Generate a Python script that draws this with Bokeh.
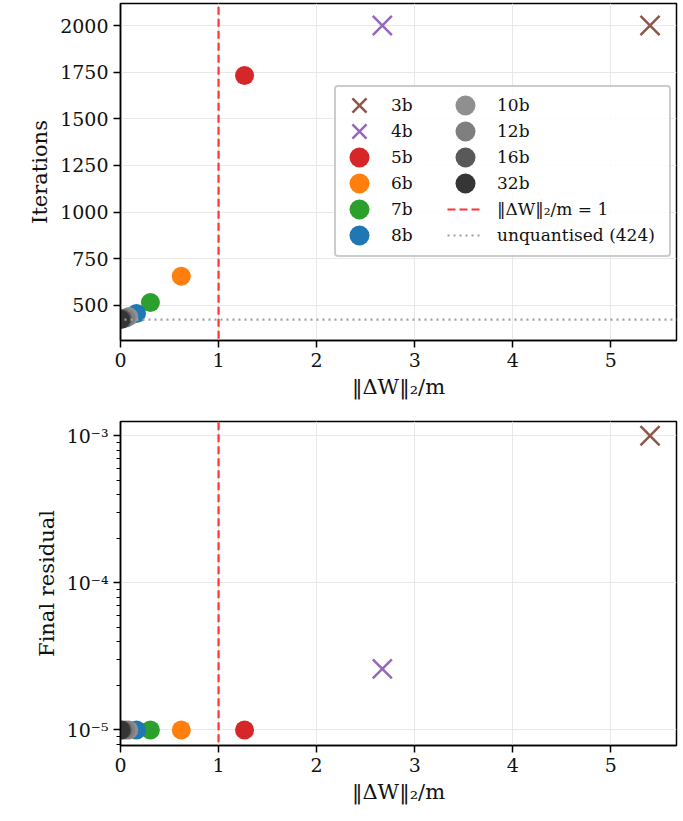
from bokeh.plotting import figure
from bokeh.layouts import column
from bokeh.models import Legend, LegendItem, Range1d, CustomJSTickFormatter, LogTicker, FixedTicker
from bokeh.embed import file_html
from bokeh.resources import INLINE

# ---- data ----
labels = ["3b", "4b", "5b", "6b", "7b", "8b", "10b", "12b", "16b", "32b"]
dw_norm = [5.40, 2.67, 1.265, 0.62, 0.305, 0.163, 0.085, 0.055, 0.02, 0.003]
iterations = [2000, 2000, 1732, 656, 516, 457, 440, 432, 428, 424]
final_resid = [1.0e-3, 2.6e-5, 1.0e-5, 1.0e-5, 1.0e-5, 1.0e-5, 1.0e-5, 1.0e-5, 1.0e-5, 1.0e-5]
colors = ["#8c564b", "#9467bd", "#d62728", "#ff7f0e", "#2ca02c", "#1f77b4",
          "#8f8f8f", "#7f7f7f", "#595959", "#353535"]
markers = ["x", "x", "circle", "circle", "circle", "circle", "circle", "circle", "circle", "circle"]
THRESH = 1.0
UNQUANT = 424
x_ticks = [0, 1, 2, 3, 4, 5]
y_ticks_top = [500, 750, 1000, 1250, 1500, 1750, 2000]

FONT = "DejaVu Serif"
XLABEL = "‖ΔW‖₂/m"


def style(p):
    p.outline_line_color = "black"
    p.outline_line_width = 1.5
    p.outline_line_alpha = 1.0
    p.background_fill_color = "white"
    p.border_fill_color = "white"
    for ax in p.axis:
        ax.axis_line_width = 1.5
        ax.axis_line_color = "black"
        ax.major_tick_line_width = 1.5
        ax.major_tick_out = 7
        ax.major_tick_in = 0
        ax.minor_tick_line_width = 1.0
        ax.minor_tick_out = 4
        ax.minor_tick_in = 0
        ax.major_label_text_font = FONT
        ax.major_label_text_font_size = "19px"
        ax.major_label_text_color = "#111111"
        ax.axis_label_text_font = FONT
        ax.axis_label_text_font_size = "21px"
        ax.axis_label_text_font_style = "normal"
        ax.axis_label_text_color = "#111111"
    p.xaxis.minor_tick_line_color = None
    p.xaxis.ticker = FixedTicker(ticks=x_ticks)
    p.grid.grid_line_color = "#e8e8e8"
    p.grid.grid_line_width = 1


def add_points(p, yvals):
    rs = {}
    for lab, x, y, c, m in zip(labels, dw_norm, yvals, colors, markers):
        if m == "x":
            r = p.scatter([x], [y], marker="x", size=27, line_color=c, line_width=2.5)
        else:
            r = p.scatter([x], [y], marker="circle", size=19, fill_color=c, line_color=None)
        rs[lab] = r
    return rs


# ---- top panel ----
p1 = figure(width=679, height=418, output_backend="svg", toolbar_location=None,
            x_range=Range1d(0, 5.67), y_range=Range1d(312, 2118),
            min_border_left=120, min_border_right=3, min_border_top=3, min_border_bottom=78)
style(p1)
p1.yaxis.minor_tick_line_color = None
p1.yaxis.ticker = FixedTicker(ticks=y_ticks_top)
p1.xaxis.axis_label = XLABEL
p1.yaxis.axis_label = "Iterations"

items = add_points(p1, iterations)

r_thr = p1.line([THRESH, THRESH], [-1e5, 1e5], line_color="#ff3333", line_width=2.2, line_dash="8 4")
r_unq = p1.line([-100, 100], [UNQUANT, UNQUANT], line_color="#a0a0a0", line_width=2.2, line_dash="2 4")

txt = dict(label_text_font=FONT, label_text_font_size="17px", label_text_color="#111111",
           margin=0, padding=0, spacing=0, label_height=20,
           border_line_color=None, background_fill_alpha=0)

# legend frame
r_box = p1.line([], [], line_alpha=0)
box = Legend(items=[LegendItem(label=" ", renderers=[r_box])], location=(214, 83),
             glyph_width=300, glyph_height=168, label_width=33, label_standoff=0,
             label_text_font=FONT, label_text_font_size="10px", margin=0, padding=0,
             border_line_color="#cccccc", border_line_width=2, border_line_alpha=1.0,
             background_fill_color="white", background_fill_alpha=0.85)
try:
    box.border_radius = 4
except Exception:
    pass
p1.add_layout(box)

# marker entries: one row each, two columns (6 + 4 rows)
ROW_PITCH = 26
for k, lab in enumerate(labels):
    col, row = (0, k) if k < 6 else (1, k - 6)
    lg = Legend(items=[LegendItem(label=lab, renderers=[items[lab]])],
                location=(214 + 106 * col, 210 - ROW_PITCH * row),
                glyph_width=50, glyph_height=50, label_standoff=7, **txt)
    p1.add_layout(lg)

# reference lines (rows 5 and 6 of the second column)
p1.add_layout(Legend(items=[LegendItem(label="‖ΔW‖₂/m = 1", renderers=[r_thr]),
                            LegendItem(label="unquantised (424)", renderers=[r_unq])],
                     location=(327, 92), glyph_width=36, glyph_height=26, label_standoff=14, **txt))

# ---- bottom panel ----
p2 = figure(width=679, height=397, output_backend="svg", toolbar_location=None,
            x_range=Range1d(0, 5.67), y_range=Range1d(10 ** -5.106, 10 ** -2.903),
            y_axis_type="log",
            min_border_left=120, min_border_right=3, min_border_top=3, min_border_bottom=70)
style(p2)
p2.yaxis.ticker = LogTicker(num_minor_ticks=10)
p2.yaxis.formatter = CustomJSTickFormatter(code="""
const e = Math.round(Math.log10(tick));
const sup = {'-':'\u207b','0':'\u2070','1':'\u00b9','2':'\u00b2','3':'\u00b3','4':'\u2074','5':'\u2075','6':'\u2076','7':'\u2077','8':'\u2078','9':'\u2079'};
return '10' + String(e).split('').map(c => sup[c]).join('');
""")
p2.xaxis.axis_label = XLABEL
p2.yaxis.axis_label = "Final residual"

add_points(p2, final_resid)
p2.line([THRESH, THRESH], [1e-9, 1], line_color="#ff3333", line_width=2.2, line_dash="8 4")

layout = column(p1, p2, spacing=0)
open("out.html", "w").write(file_html(layout, INLINE))
